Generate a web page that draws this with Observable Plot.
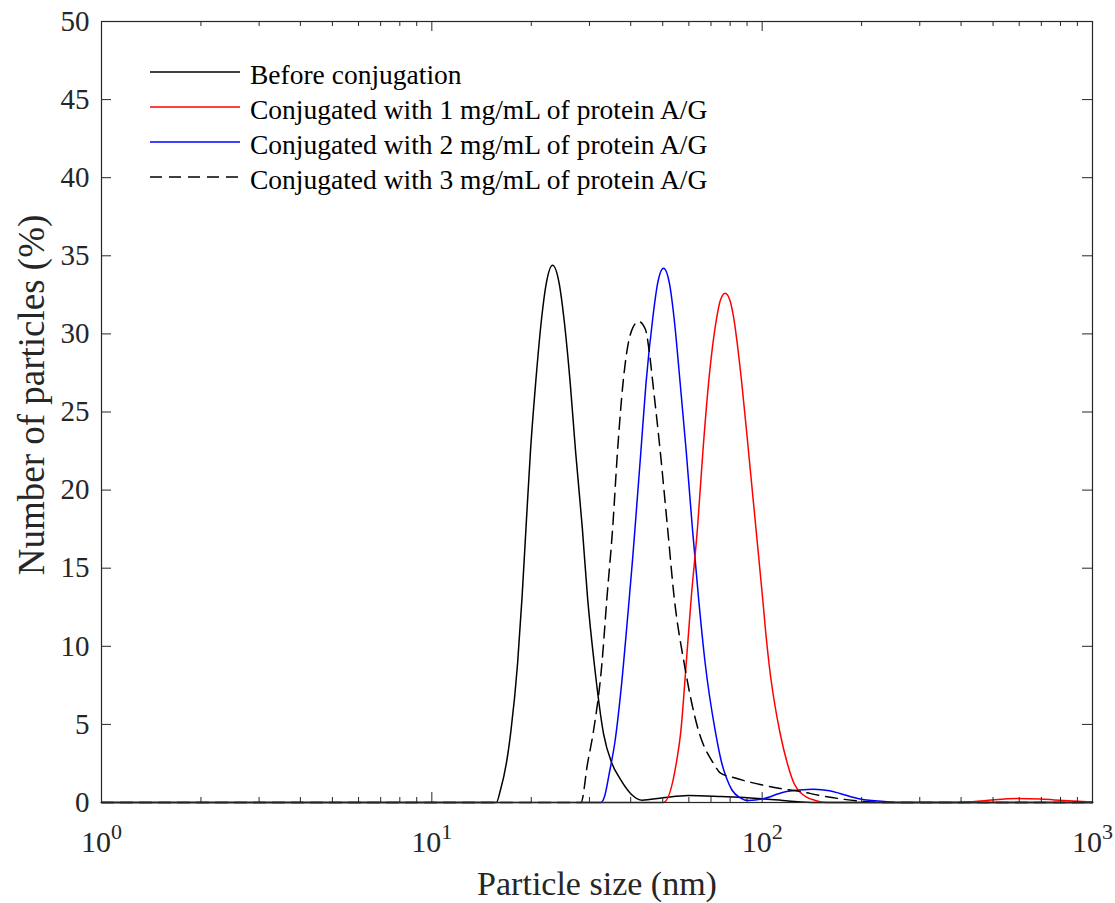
<!DOCTYPE html>
<html>
<head>
<meta charset="utf-8">
<script src="https://cdn.jsdelivr.net/npm/d3@7"></script>
<script src="https://cdn.jsdelivr.net/npm/@observablehq/plot@0.6"></script>
<style>
  html, body { margin: 0; padding: 0; background: #fff; }
  #wrap { position: relative; width: 1115px; height: 903px; }
  #wrap svg { display: block; }
  #legend { position: absolute; left: 0; top: 0; pointer-events: none; }
</style>
</head>
<body>
<div id="wrap"></div>
<script>
// ---- data ----
const seriesNames = [
  "Before conjugation",
  "Conjugated with 1 mg/mL of protein A/G",
  "Conjugated with 2 mg/mL of protein A/G",
  "Conjugated with 3 mg/mL of protein A/G"
];
const seriesColors = ["#000000", "#ff0000", "#0000ff", "#000000"];
const seriesDash = [null, null, null, "12,7"];

const xBefore = [1, 15.67, 16.12, 16.81, 17.36, 18.18, 18.75, 19.28, 19.89, 20.61, 21.52, 22.19, 23.2, 24.31, 25.08, 26.25, 27.23, 28.54, 29.61, 31.02, 33.1, 35.1, 37.2, 40.3, 43.3, 50, 59.8, 75, 100, 120, 145, 1000];
const yBefore = [0, 0, 0.77, 2.5, 4.6, 8.9, 13.1, 17.6, 22.5, 26.8, 31.1, 33.2, 34.4, 33.2, 31.1, 26.8, 22.5, 17.6, 13.1, 8.9, 4.4, 2.5, 1.5, 0.5, 0.15, 0.3, 0.45, 0.38, 0.24, 0.1, 0, 0];

const x1mg = [28.3, 50.28, 54.94, 56.75, 58.89, 60.99, 63.72, 66.17, 68.79, 72.94, 74.6, 77.27, 80.0, 81.88, 86.8, 90.9, 95.7, 100.5, 102.6, 105.2, 108.7, 113.4, 120.1, 125.0, 131.9, 144.7, 156.9, 388, 470, 590, 700, 816, 1000];
const y1mg = [0, 0, 2.5, 4.6, 8.9, 13.1, 17.6, 22.5, 26.8, 31.1, 32.1, 32.6, 32.1, 31.1, 26.8, 22.5, 17.6, 12.9, 10.8, 8.66, 6.53, 4.4, 2.26, 1.2, 0.56, 0.13, 0, 0, 0.12, 0.26, 0.22, 0.13, 0.03];

const x2mg = [1, 32.5, 33.4, 34.4, 35.9, 37.5, 39.2, 40.5, 41.2, 42.95, 44.48, 46.7, 48.22, 50.28, 52.43, 54.06, 56.49, 58.89, 61.52, 64.17, 67.23, 72.08, 75.5, 78.2, 81, 85.8, 90.9, 100.7, 116, 130, 143, 160, 172, 198, 238, 262, 1000];
const y2mg = [0, 0, 0.45, 1.8, 4.0, 7.5, 12.0, 15.5, 17.5, 22.5, 26.8, 31.1, 33.2, 34.2, 33.2, 31.1, 26.8, 22.5, 17.5, 13.1, 8.9, 4.6, 2.5, 1.5, 0.8, 0.3, 0.13, 0.24, 0.66, 0.8, 0.85, 0.75, 0.58, 0.22, 0.05, 0, 0];

const x3mg = [1, 28.28, 29.61, 30.87, 32.73, 33.89, 35.25, 36.49, 37.89, 38.96, 40.6, 42.25, 44.3, 45.5, 46.7, 49.13, 51.7, 54.17, 58.07, 64.17, 71.24, 74.63, 81.88, 98.6, 113.4, 130.3, 150, 172, 198, 230, 1000];
const y3mg = [0, 0, 2.5, 4.6, 8.9, 13.1, 17.5, 22.5, 26.8, 28.9, 30.4, 30.8, 30.3, 28.9, 26.8, 22.5, 17.6, 13.1, 8.9, 4.6, 2.5, 1.9, 1.6, 1.15, 0.9, 0.7, 0.45, 0.24, 0.08, 0, 0];

const xMajorTicks = [1, 10, 100, 1000];
const xMinorTicks = [2,3,4,5,6,7,8,9, 20,30,40,50,60,70,80,90, 200,300,400,500,600,700,800,900];
const yTicks = [0, 5, 10, 15, 20, 25, 30, 35, 40, 45, 50];
const xLabel = "Particle size (nm)";
const yLabel = "Number of particles (%)";

// ---- build ----
const W = 1115, H = 903, mL = 101, mT = 21, mR = 23, mB = 101;
const pw = W - mL - mR, ph = H - mT - mB;
const axisColor = "#262626";
const font = "'Liberation Serif', 'Times New Roman', serif";

const allX = [xBefore, x1mg, x2mg, x3mg];
const allY = [yBefore, y1mg, y2mg, y3mg];
const series = allX.map((xs, i) => xs.map((x, j) => ({x, y: allY[i][j]})));

const lineMarks = [0, 2, 1, 3].map(i => Plot.line(series[i], {
  x: "x", y: "y", stroke: seriesColors[i], strokeWidth: 1.5,
  strokeDasharray: seriesDash[i] ?? undefined, curve: "monotone-x"
}));

const chart = Plot.plot({
  width: W, height: H,
  marginLeft: mL, marginTop: mT, marginRight: mR, marginBottom: mB,
  style: {fontFamily: font, background: "#fff", color: axisColor, overflow: "visible"},
  x: {type: "log", domain: [1, 1000], axis: null},
  y: {domain: [0, 50], axis: null},
  marks: [
    ...lineMarks,
    Plot.tickX(xMinorTicks, {x: d => d, stroke: axisColor, insetTop: ph - 5}),
    Plot.tickX(xMinorTicks, {x: d => d, stroke: axisColor, insetBottom: ph - 5}),
    Plot.tickX(xMajorTicks, {x: d => d, stroke: axisColor, insetTop: ph - 10}),
    Plot.tickX(xMajorTicks, {x: d => d, stroke: axisColor, insetBottom: ph - 10}),
    Plot.tickY(yTicks, {y: d => d, stroke: axisColor, insetRight: pw - 10}),
    Plot.tickY(yTicks, {y: d => d, stroke: axisColor, insetLeft: pw - 10}),
    Plot.frame({stroke: axisColor, strokeWidth: 1.2}),
    Plot.axisY(yTicks, {tickSize: 0, tickPadding: 12, fontSize: 29, label: null, tickFormat: d => String(d), fill: axisColor}),
    Plot.axisX(xMajorTicks, {tickSize: 0, tickPadding: 28, fontSize: 30, label: null,
      tickFormat: d => "10^" + Math.round(Math.log10(d)), fill: axisColor}),
    Plot.text([xLabel], {text: d => d, frameAnchor: "bottom", textAnchor: "middle", dy: 92, lineAnchor: "bottom", fontSize: 34, fill: axisColor}),
    Plot.text([yLabel], {text: d => d, frameAnchor: "left", textAnchor: "middle", dx: -58, dy: -17, rotate: -90, lineAnchor: "bottom", fontSize: 37, fill: axisColor})
  ]
});

// superscript exponents on the log-axis labels
chart.querySelectorAll('g[aria-label="x-axis tick label"] text').forEach(t => {
  const s = t.textContent;
  const parts = s.split("^");
  if (parts.length !== 2) return;
  t.textContent = parts[0];
  const ts = document.createElementNS("http://www.w3.org/2000/svg", "tspan");
  ts.setAttribute("dy", "-13");
  ts.setAttribute("font-size", "22");
  ts.textContent = parts[1];
  t.appendChild(ts);
});

const wrap = document.getElementById("wrap");
wrap.appendChild(chart);

// legend overlay (no box), built from the series names/colours
const NS = "http://www.w3.org/2000/svg";
const leg = document.createElementNS(NS, "svg");
leg.setAttribute("id", "legend");
leg.setAttribute("width", W);
leg.setAttribute("height", H);
seriesNames.forEach((name, i) => {
  const yy = 72 + i * 35;
  const ln = document.createElementNS(NS, "line");
  ln.setAttribute("x1", 150); ln.setAttribute("x2", 240);
  ln.setAttribute("y1", yy); ln.setAttribute("y2", yy);
  ln.setAttribute("stroke", seriesColors[i]);
  ln.setAttribute("stroke-width", 1.5);
  if (seriesDash[i]) ln.setAttribute("stroke-dasharray", seriesDash[i]);
  leg.appendChild(ln);
  const tx = document.createElementNS(NS, "text");
  tx.setAttribute("x", 250);
  tx.setAttribute("y", yy + 11.5);
  tx.setAttribute("font-family", font);
  tx.setAttribute("font-size", 27.5);
  tx.setAttribute("fill", "#000");
  tx.textContent = name;
  leg.appendChild(tx);
});
wrap.appendChild(leg);
</script>
</body>
</html>
